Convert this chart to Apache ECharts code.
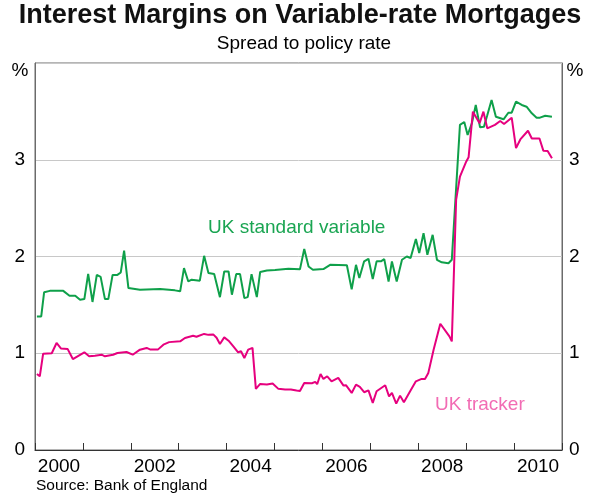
<!DOCTYPE html>
<html>
<head>
<meta charset="utf-8">
<script src="https://cdn.jsdelivr.net/npm/echarts@6/dist/echarts.min.js"></script>
<style>
  html, body { margin: 0; padding: 0; background: #fff; }
  #chart { width: 600px; height: 499px; }
</style>
</head>
<body>
<div id="chart"></div>
<script>
// year bands on the bottom axis (labels sit mid-year, ticks on year boundaries)
const yearLabels = ['2000', '2001', '2002', '2003', '2004', '2005', '2006', '2007', '2008', '2009', '2010'];
const yTicks = [0, 1, 2, 3, 4];

// UK standard variable, spread to policy rate (%)
const svDates = [
    2000.04, 2000.13, 2000.19, 2000.31, 2000.59, 2000.63, 2000.72, 2000.84, 2000.94, 2001.03,
    2001.11, 2001.20, 2001.29, 2001.37, 2001.46, 2001.53, 2001.62, 2001.72, 2001.79, 2001.86,
    2001.95, 2002.19, 2002.33, 2002.61, 2002.92, 2003.03, 2003.11, 2003.20, 2003.27, 2003.44,
    2003.53, 2003.62, 2003.74, 2003.86, 2003.95, 2004.04, 2004.11, 2004.20, 2004.28, 2004.37,
    2004.44, 2004.52, 2004.63, 2004.70, 2004.84, 2005.01, 2005.29, 2005.53, 2005.62, 2005.71,
    2005.80, 2006.02, 2006.16, 2006.51, 2006.61, 2006.70, 2006.77, 2006.87, 2006.96, 2007.05,
    2007.13, 2007.22, 2007.29, 2007.38, 2007.45, 2007.55, 2007.66, 2007.76, 2007.84, 2007.95,
    2008.02, 2008.11, 2008.19, 2008.30, 2008.39, 2008.49, 2008.63, 2008.70, 2008.87, 2008.96,
    2009.03, 2009.12, 2009.20, 2009.29, 2009.37, 2009.44, 2009.53, 2009.62, 2009.78, 2009.88,
    2009.95, 2010.04, 2010.16, 2010.26, 2010.37, 2010.47, 2010.54, 2010.65, 2010.79
];
const svValues = [
    1.38, 1.38, 1.63, 1.645, 1.645, 1.63, 1.595, 1.595, 1.553, 1.56,
    1.82, 1.53, 1.81, 1.79, 1.56, 1.56, 1.81, 1.81, 1.835, 2.06,
    1.674, 1.656, 1.66, 1.663, 1.65, 1.64, 1.88, 1.742, 1.76, 1.75,
    2.007, 1.83, 1.82, 1.58, 1.845, 1.845, 1.605, 1.818, 1.818, 1.57,
    1.58, 1.818, 1.58, 1.84, 1.855, 1.86, 1.873, 1.867, 2.077, 1.897,
    1.863, 1.87, 1.914, 1.91, 1.66, 1.914, 1.777, 1.95, 1.976, 1.767,
    1.95, 1.95, 1.973, 1.742, 1.948, 1.742, 1.966, 2.0, 1.985, 2.18,
    2.035, 2.24, 2.018, 2.224, 1.966, 1.94, 1.93, 1.966, 3.36, 3.39,
    3.256, 3.38, 3.566, 3.335, 3.34, 3.46, 3.617, 3.445, 3.418, 3.486,
    3.486, 3.6, 3.566, 3.548, 3.48, 3.435, 3.435, 3.455, 3.445
];

// UK tracker, spread to policy rate (%)
const trDates = [
    2000.04, 2000.10, 2000.17, 2000.35, 2000.45, 2000.54, 2000.68, 2000.79, 2001.03, 2001.13,
    2001.25, 2001.39, 2001.46, 2001.63, 2001.72, 2001.91, 2002.04, 2002.19, 2002.33, 2002.40,
    2002.57, 2002.68, 2002.80, 2003.03, 2003.13, 2003.30, 2003.37, 2003.53, 2003.62, 2003.72,
    2003.79, 2003.86, 2003.95, 2004.04, 2004.14, 2004.24, 2004.30, 2004.37, 2004.45, 2004.54,
    2004.61, 2004.70, 2004.84, 2004.96, 2005.08, 2005.22, 2005.34, 2005.46, 2005.53, 2005.62,
    2005.78, 2005.85, 2005.89, 2005.96, 2006.02, 2006.10, 2006.19, 2006.33, 2006.44, 2006.49,
    2006.61, 2006.70, 2006.78, 2006.87, 2006.96, 2007.05, 2007.13, 2007.31, 2007.39, 2007.45,
    2007.54, 2007.62, 2007.70, 2007.83, 2007.95, 2008.07, 2008.14, 2008.21, 2008.32, 2008.46,
    2008.65, 2008.70, 2008.79, 2008.87, 2009.00, 2009.05, 2009.14, 2009.28, 2009.36, 2009.44,
    2009.60, 2009.71, 2009.79, 2009.95, 2010.04, 2010.13, 2010.29, 2010.37, 2010.53, 2010.61,
    2010.70, 2010.79
];
const trValues = [
    0.786, 0.762, 0.996, 1.0, 1.106, 1.05, 1.045, 0.94, 1.01, 0.968,
    0.975, 0.985, 0.968, 0.985, 1.003, 1.013, 0.985, 1.037, 1.055, 1.04,
    1.04, 1.089, 1.115, 1.123, 1.158, 1.18, 1.17, 1.2, 1.19, 1.195,
    1.16, 1.096, 1.164, 1.13, 1.071, 1.01, 1.02, 0.951, 1.037, 1.055,
    0.632, 0.683, 0.677, 0.688, 0.632, 0.625, 0.625, 0.614, 0.61, 0.693,
    0.69, 0.704, 0.68, 0.786, 0.735, 0.762, 0.71, 0.745, 0.666, 0.67,
    0.59, 0.676, 0.652, 0.597, 0.617, 0.487, 0.607, 0.669, 0.555, 0.59,
    0.48, 0.562, 0.493, 0.607, 0.71, 0.735, 0.735, 0.797, 1.037, 1.305,
    1.174, 1.123, 2.585, 2.826, 2.98, 3.025, 3.497, 3.377, 3.497, 3.325,
    3.36, 3.4, 3.37, 3.435, 3.12, 3.21, 3.3, 3.22, 3.22, 3.094,
    3.09, 3.015
];

const FONT = '"Liberation Sans", Arial, sans-serif';
const GREEN = '#0fa04a';
const PINK = '#e6007e';

function zip(xs, ys) {
    return xs.map((x, i) => [x, ys[i]]);
}

function renderChart() {
    const chart = echarts.init(document.getElementById('chart'), null, { renderer: 'canvas' });

    const yLabel = {
        fontFamily: FONT,
        fontSize: 19,
        color: '#000',
        formatter: v => (v === yTicks[yTicks.length - 1] ? '' : String(v))
    };

    const option = {
        animation: false,
        backgroundColor: '#fff',
        grid: {
            left: 35, right: 38, top: 63, bottom: 49,
            show: true, borderColor: '#6b6b6b', borderWidth: 1
        },
        graphic: [
            { type: 'text', left: 'center', top: 2,
              style: { text: 'Interest Margins on Variable-rate Mortgages', font: 'bold 27px ' + FONT, fill: '#111' } },
            { type: 'text', x: 304, y: 44,
              style: { text: 'Spread to policy rate', font: '19px ' + FONT, fill: '#000', textAlign: 'center', textVerticalAlign: 'middle' } },
            { type: 'text', x: 20, y: 71,
              style: { text: '%', font: '19px ' + FONT, fill: '#000', textAlign: 'center', textVerticalAlign: 'middle' } },
            { type: 'text', x: 575, y: 71,
              style: { text: '%', font: '19px ' + FONT, fill: '#000', textAlign: 'center', textVerticalAlign: 'middle' } },
            { type: 'text', x: 208, y: 228,
              style: { text: 'UK standard variable', font: '19px ' + FONT, fill: '#1aa552', textVerticalAlign: 'middle' } },
            { type: 'text', x: 435, y: 405,
              style: { text: 'UK tracker', font: '19px ' + FONT, fill: '#f26cb4', textVerticalAlign: 'middle' } },
            { type: 'text', x: 36, y: 486,
              style: { text: 'Source: Bank of England', font: '15.5px ' + FONT, fill: '#000', textVerticalAlign: 'middle' } }
        ],
        xAxis: [
            {
                type: 'category',
                data: yearLabels,
                boundaryGap: true,
                axisLine: { show: true, lineStyle: { color: '#333', width: 1 } },
                axisTick: { show: true, inside: true, length: 7, interval: 0, lineStyle: { color: '#333' } },
                axisLabel: { interval: 1, fontFamily: FONT, fontSize: 19, color: '#000', margin: 7 },
                splitLine: { show: false }
            },
            {
                type: 'value',
                min: 2000,
                max: 2011,
                show: false
            }
        ],
        yAxis: [
            {
                type: 'value', position: 'left', min: 0, max: 4, interval: 1,
                axisLine: { show: true, lineStyle: { color: '#6b6b6b' } },
                axisTick: { show: false },
                axisLabel: Object.assign({ margin: 10 }, yLabel),
                splitLine: { show: true, lineStyle: { color: '#c8c8c8', width: 1 } }
            },
            {
                type: 'value', position: 'right', min: 0, max: 4, interval: 1,
                axisLine: { show: true, lineStyle: { color: '#6b6b6b' } },
                axisTick: { show: false },
                axisLabel: Object.assign({ margin: 7 }, yLabel),
                splitLine: { show: false }
            }
        ],
        series: [
            {
                name: 'UK standard variable',
                type: 'line',
                xAxisIndex: 1,
                yAxisIndex: 0,
                data: zip(svDates, svValues),
                showSymbol: false,
                lineStyle: { color: GREEN, width: 2 },
                itemStyle: { color: GREEN },
                z: 3
            },
            {
                name: 'UK tracker',
                type: 'line',
                xAxisIndex: 1,
                yAxisIndex: 0,
                data: zip(trDates, trValues),
                showSymbol: false,
                lineStyle: { color: PINK, width: 2 },
                itemStyle: { color: PINK },
                z: 4
            }
        ]
    };

    chart.setOption(option);
    return chart;
}

document.addEventListener('DOMContentLoaded', renderChart);
</script>
</body>
</html>
